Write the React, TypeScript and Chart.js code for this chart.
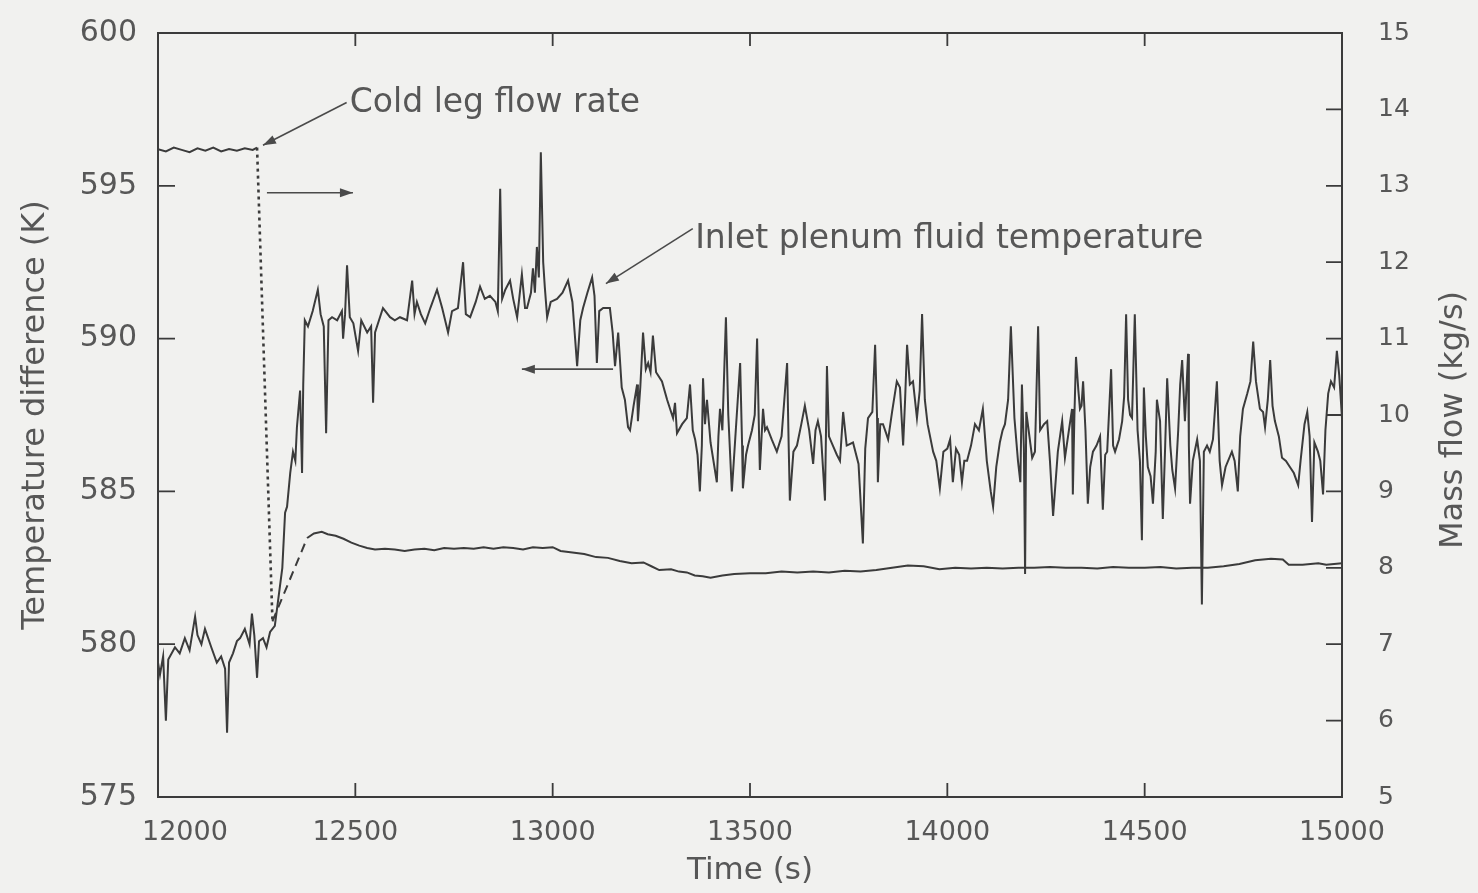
import { useEffect, useRef } from 'react';
import { Chart, registerables } from 'chart.js';

Chart.register(...registerables);

const INK = '#3b3b3b';
const TEXT = '#575757';
const PAPER = '#f1f1ef';
const FONT = '"DejaVu Sans", "Liberation Sans", sans-serif';

// Axis ticks
const timeTicks = [12000, 12500, 13000, 13500, 14000, 14500, 15000];
const timeTickLabels = ['12000', '12500', '13000', '13500', '14000', '14500', '15000'];
const tempTicks = [575, 580, 585, 590, 595, 600];
const flowTicks = [5, 6, 7, 8, 9, 10, 11, 12, 13, 14, 15];

// Inlet plenum fluid temperature (K), left axis
const tempTime = [
  12000, 12005, 12013, 12020, 12026, 12043, 12055, 12068, 12080, 12094,
  12100, 12110, 12119, 12135, 12149, 12160, 12170, 12175, 12180, 12190,
  12200, 12208, 12220, 12232, 12238, 12244, 12251, 12256, 12266, 12275,
  12284, 12296, 12305, 12315, 12322, 12327, 12335, 12342, 12348, 12352,
  12360, 12365, 12368, 12372, 12380, 12392, 12405, 12412, 12420, 12426,
  12432, 12441, 12454, 12466, 12469, 12474, 12479, 12486, 12495, 12507,
  12515, 12530, 12540, 12545, 12550, 12570, 12588, 12600, 12613, 12631,
  12644, 12650, 12656, 12666, 12677, 12690, 12707, 12720, 12735, 12745,
  12760, 12773, 12780, 12791, 12805, 12816, 12828, 12841, 12855, 12861,
  12867, 12872, 12880, 12892, 12900, 12910, 12916, 12922, 12930, 12935,
  12945, 12950, 12955, 12960, 12965, 12970, 12976, 12980, 12986, 12995,
  13011, 13025, 13039, 13050, 13062, 13070, 13077, 13088, 13100, 13106,
  13112, 13118, 13128, 13145, 13152, 13158, 13166, 13175, 13183, 13191,
  13196, 13205, 13214, 13216, 13222, 13229, 13236, 13242, 13248, 13254,
  13262, 13277, 13290, 13305, 13310, 13315, 13328, 13340, 13348, 13355,
  13361, 13367, 13373, 13378, 13381, 13386, 13391, 13400, 13416, 13420,
  13424, 13430, 13439, 13445, 13454, 13462, 13475, 13480, 13482, 13490,
  13495, 13505, 13512, 13518, 13522, 13525, 13533, 13538, 13543, 13555,
  13568, 13580, 13594, 13598, 13601, 13610, 13619, 13630, 13639, 13650,
  13660, 13666, 13672, 13680, 13690, 13695, 13700, 13710, 13720, 13728,
  13736, 13745, 13761, 13775, 13786, 13792, 13799, 13810, 13817, 13822,
  13824, 13830, 13837, 13845, 13850, 13860, 13872, 13880, 13888, 13893,
  13898, 13905, 13913, 13923, 13930, 13936, 13943, 13950, 13964, 13972,
  13981, 13990, 14000, 14007, 14014, 14022, 14030, 14037, 14043, 14050,
  14060, 14070, 14080, 14090, 14100, 14110, 14116, 14124, 14133, 14140,
  14146, 14154, 14161, 14170, 14179, 14185, 14189, 14194, 14197, 14200,
  14208, 14215, 14222, 14230, 14235, 14245, 14253, 14260, 14268, 14280,
  14291, 14298, 14308, 14316, 14318, 14322, 14326, 14332, 14336, 14340,
  14344, 14350, 14356, 14362, 14369, 14378, 14387, 14394, 14400, 14405,
  14415, 14420, 14425, 14435, 14443, 14448, 14453, 14458, 14463, 14468,
  14475, 14482, 14488, 14493, 14498, 14503, 14508, 14515, 14521, 14528,
  14531, 14539, 14546, 14552, 14557, 14565, 14570, 14577, 14585, 14590,
  14595, 14602, 14610, 14612, 14615, 14622, 14633, 14640, 14645, 14650,
  14658, 14665, 14673, 14683, 14690, 14696, 14705, 14721, 14728, 14736,
  14742, 14749, 14760, 14768, 14775, 14782, 14792, 14800, 14805, 14812,
  14818, 14824, 14830, 14840, 14848, 14858, 14868, 14878, 14889, 14895,
  14905, 14912, 14918, 14924, 14930, 14939, 14945, 14952, 14958, 14965,
  14972, 14980, 14987, 14993, 15000,
];
const tempValue = [
  579.4, 579.0, 579.6, 577.5, 579.5, 579.9, 579.7, 580.2, 579.8, 580.9,
  580.3, 580.0, 580.5, 579.9, 579.4, 579.6, 579.2, 577.1, 579.4, 579.7,
  580.1, 580.2, 580.5, 580.0, 581.0, 580.3, 578.9, 580.1, 580.2, 579.9,
  580.4, 580.6, 581.5, 582.5, 584.3, 584.5, 585.6, 586.3, 586.0, 587.1,
  588.3, 585.6, 588.5, 590.6, 590.4, 590.9, 591.6, 590.8, 590.4, 586.9,
  590.6, 590.7, 590.6, 590.9, 590.0, 590.8, 592.4, 590.7, 590.5, 589.6,
  590.6, 590.2, 590.4, 587.9, 590.2, 591.0, 590.7, 590.6, 590.7, 590.6,
  591.9, 590.8, 591.2, 590.8, 590.5, 591.0, 591.6, 591.0, 590.2, 590.9,
  591.0, 592.5, 590.8, 590.7, 591.2, 591.7, 591.3, 591.4, 591.2, 590.9,
  594.9, 591.3, 591.6, 591.9, 591.3, 590.7, 591.4, 592.1, 591.0, 591.0,
  591.5, 592.3, 591.5, 593.0, 592.0, 596.1, 592.5, 591.7, 590.7, 591.2,
  591.3, 591.5, 591.9, 591.2, 589.1, 590.6, 591.0, 591.5, 592.0, 591.4,
  589.2, 590.9, 591.0, 591.0, 590.2, 589.1, 590.2, 588.4, 588.0, 587.1,
  587.0, 587.8, 588.5, 587.3, 588.4, 590.2, 589.0, 589.2, 588.9, 590.1,
  588.9, 588.6, 588.0, 587.4, 587.9, 586.9, 587.2, 587.4, 588.5, 587.0,
  586.7, 586.2, 585.0, 586.5, 588.7, 587.2, 588.0, 586.6, 585.3, 586.8,
  587.7, 587.0, 590.7, 587.5, 585.0, 586.6, 589.2, 586.5, 585.1, 586.2,
  586.5, 587.0, 587.5, 590.0, 587.4, 585.7, 587.7, 587.0, 587.1, 586.7,
  586.3, 586.8, 589.2, 586.5, 584.7, 586.3, 586.5, 587.2, 587.8, 587.0,
  585.9, 587.0, 587.3, 586.8, 584.7, 589.1, 586.8, 586.5, 586.2, 586.0,
  587.6, 586.5, 586.6, 585.9, 583.3, 586.4, 587.4, 587.6, 589.8, 587.4,
  585.3, 587.2, 587.2, 586.9, 586.7, 587.6, 588.6, 588.4, 586.5, 588.0,
  589.8, 588.5, 588.6, 587.4, 588.3, 590.8, 588.0, 587.2, 586.3, 586.0,
  585.1, 586.3, 586.4, 586.7, 585.3, 586.4, 586.2, 585.3, 586.0, 586.0,
  586.5, 587.2, 587.0, 587.7, 586.0, 585.0, 584.5, 585.8, 586.6, 587.0,
  587.2, 588.0, 590.4, 587.4, 586.0, 585.3, 588.5, 586.4, 582.3, 587.6,
  586.8, 586.1, 586.3, 590.4, 587.0, 587.2, 587.3, 586.0, 584.2, 586.3,
  587.3, 586.1, 587.0, 587.7, 584.9, 587.5, 589.4, 588.3, 587.7, 587.8,
  588.6, 587.0, 584.6, 585.8, 586.3, 586.5, 586.8, 584.4, 586.2, 586.3,
  589.0, 586.5, 586.3, 586.7, 587.3, 588.1, 590.8, 588.0, 587.5, 587.4,
  590.8, 587.0, 586.0, 583.4, 588.4, 586.8, 585.8, 585.5, 584.6, 586.3,
  588.0, 587.3, 584.1, 586.5, 588.7, 586.5, 585.7, 585.1, 587.0, 588.5,
  589.3, 587.3, 589.5, 586.5, 584.6, 586.0, 586.7, 586.0, 581.3, 586.3,
  586.5, 586.3, 586.7, 588.6, 586.0, 585.2, 585.8, 586.3, 586.0, 585.0,
  586.8, 587.7, 588.2, 588.6, 589.9, 588.6, 587.7, 587.6, 587.1, 588.0,
  589.3, 587.8, 587.3, 586.8, 586.1, 586.0, 585.8, 585.6, 585.2, 586.0,
  587.2, 587.6, 586.8, 584.0, 586.6, 586.3, 586.0, 584.9, 587.0, 588.2,
  588.6, 588.4, 589.6, 588.8, 587.4,
];

// Cold leg mass flow rate (kg/s), right axis
const flowTime = [
  12000, 12020, 12040, 12060, 12080, 12100, 12120, 12140, 12160, 12180,
  12200, 12220, 12240, 12251, 12290, 12378, 12395, 12415, 12430, 12450,
  12470, 12490, 12510, 12530, 12550, 12575, 12600, 12625, 12650, 12675,
  12700, 12725, 12750, 12775, 12800, 12825, 12850, 12875, 12900, 12925,
  12950, 12975, 13000, 13020, 13050, 13080, 13110, 13140, 13170, 13200,
  13230, 13250, 13270, 13300, 13320, 13340, 13360, 13380, 13400, 13430,
  13460, 13500, 13540, 13580, 13620, 13660, 13700, 13740, 13780, 13820,
  13860, 13900, 13940, 13980, 14020, 14060, 14100, 14140, 14180, 14220,
  14260, 14300, 14340, 14380, 14420, 14460, 14500, 14540, 14580, 14620,
  14660, 14700, 14740, 14780, 14820, 14850, 14865, 14900, 14940, 14960,
  15000,
];
const flowValue = [
  13.48, 13.45, 13.50, 13.47, 13.44, 13.49, 13.46, 13.50, 13.45, 13.48,
  13.46, 13.49, 13.47, 13.50, 7.30, 8.39, 8.45, 8.47, 8.44, 8.42,
  8.38, 8.33, 8.29, 8.26, 8.24, 8.25, 8.24, 8.22, 8.24, 8.25,
  8.23, 8.26, 8.25, 8.26, 8.25, 8.27, 8.25, 8.27, 8.26, 8.24,
  8.27, 8.26, 8.27, 8.22, 8.20, 8.18, 8.14, 8.13, 8.09, 8.06,
  8.07, 8.02, 7.97, 7.98, 7.95, 7.94, 7.90, 7.89, 7.87, 7.90,
  7.92, 7.93, 7.93, 7.95, 7.94, 7.95, 7.94, 7.96, 7.95, 7.97,
  8.00, 8.03, 8.02, 7.98, 8.00, 7.99, 8.00, 7.99, 8.00, 8.00,
  8.01, 8.00, 8.00, 7.99, 8.01, 8.00, 8.00, 8.01, 7.99, 8.00,
  8.00, 8.02, 8.05, 8.10, 8.12, 8.11, 8.04, 8.04, 8.06, 8.04,
  8.06,
];

// Flow transient: dotted drop, then dashed recovery
const flowDropStart = 12251;
const flowDropEnd = 12290;
const flowRecoveryEnd = 12378;

const coldLegText = 'Cold leg flow rate';
const inletText = 'Inlet plenum fluid temperature';

function drawArrowHead(ctx: CanvasRenderingContext2D, fx: number, fy: number, tx: number, ty: number) {
  const ang = Math.atan2(ty - fy, tx - fx);
  const len = 13;
  const half = 4.5;
  ctx.beginPath();
  ctx.moveTo(tx, ty);
  ctx.lineTo(tx - len * Math.cos(ang) + half * Math.sin(ang), ty - len * Math.sin(ang) - half * Math.cos(ang));
  ctx.lineTo(tx - len * Math.cos(ang) - half * Math.sin(ang), ty - len * Math.sin(ang) + half * Math.cos(ang));
  ctx.closePath();
  ctx.fill();
}

function drawArrow(ctx: CanvasRenderingContext2D, fx: number, fy: number, tx: number, ty: number) {
  ctx.beginPath();
  ctx.moveTo(fx, fy);
  ctx.lineTo(tx, ty);
  ctx.stroke();
  drawArrowHead(ctx, fx, fy, tx, ty);
}

const framePlugin = {
  id: 'frameAndNotes',
  afterDatasetsDraw(chart: any) {
    const { ctx, chartArea: a, scales } = chart;
    const sx = scales.x;
    const sy = scales.y;
    const sy1 = scales.y1;
    ctx.save();

    // plot frame
    ctx.strokeStyle = INK;
    ctx.lineWidth = 2;
    ctx.strokeRect(a.left, a.top, a.right - a.left, a.bottom - a.top);

    // inward tick marks
    ctx.lineWidth = 1.8;
    ctx.beginPath();
    timeTicks.slice(1, -1).forEach((t) => {
      const px = sx.getPixelForValue(t);
      ctx.moveTo(px, a.bottom);
      ctx.lineTo(px, a.bottom - 14);
      ctx.moveTo(px, a.top);
      ctx.lineTo(px, a.top + 13);
    });
    tempTicks.slice(1, -1).forEach((v) => {
      const py = sy.getPixelForValue(v);
      ctx.moveTo(a.left, py);
      ctx.lineTo(a.left + 17, py);
    });
    flowTicks.slice(1, -1).forEach((v) => {
      const py = sy1.getPixelForValue(v);
      ctx.moveTo(a.right, py);
      ctx.lineTo(a.right - 16, py);
    });
    ctx.stroke();

    // first time label sits just inside the frame corner
    ctx.fillStyle = TEXT;
    ctx.font = `27px ${FONT}`;
    ctx.textAlign = 'left';
    ctx.textBaseline = 'middle';
    ctx.fillText(timeTickLabels[0], sx.getPixelForValue(timeTicks[0]) - 16, a.bottom + 36);

    // annotations
    ctx.strokeStyle = '#4a4a4a';
    ctx.lineWidth = 1.6;
    ctx.font = `33px ${FONT}`;
    ctx.fillText(coldLegText, sx.getPixelForValue(12486), sy1.getPixelForValue(14.08));
    ctx.fillText(inletText, sx.getPixelForValue(13361), sy.getPixelForValue(593.25));

    ctx.fillStyle = '#4a4a4a';
    // leader to the cold leg flow line
    drawArrow(ctx, sx.getPixelForValue(12478), sy1.getPixelForValue(14.09), sx.getPixelForValue(12266), sy1.getPixelForValue(13.53));
    // leader to the inlet plenum temperature
    drawArrow(ctx, sx.getPixelForValue(13355), sy.getPixelForValue(593.6), sx.getPixelForValue(13135), sy.getPixelForValue(591.8));
    // flow reads on the right axis
    drawArrow(ctx, sx.getPixelForValue(12276), sy1.getPixelForValue(12.91), sx.getPixelForValue(12494), sy1.getPixelForValue(12.91));
    // temperature reads on the left axis
    drawArrow(ctx, sx.getPixelForValue(13153), sy.getPixelForValue(589.0), sx.getPixelForValue(12922), sy.getPixelForValue(589.0));

    // right axis title, reading bottom to top
    ctx.fillStyle = TEXT;
    ctx.font = `32px ${FONT}`;
    ctx.textAlign = 'center';
    ctx.translate(a.right + 112, (a.top + a.bottom) / 2 + 5);
    ctx.rotate(-Math.PI / 2);
    ctx.fillText('Mass flow (kg/s)', 0, 0);
    ctx.restore();
  },
};

// keep the plot area fixed: no extra room for the end labels
function noEndPadding(s: any) {
  s.paddingTop = 0;
  s.paddingBottom = 0;
  s.paddingLeft = 0;
  s.paddingRight = 0;
}

export default function App() {
  const canvasRef = useRef<HTMLCanvasElement | null>(null);

  useEffect(() => {
    document.body.style.margin = '0';
    document.body.style.background = PAPER;
    const canvas = canvasRef.current;
    if (!canvas) return;

    const tempData = tempTime.map((t, i) => ({ x: t, y: tempValue[i] }));
    const flowData = flowTime.map((t, i) => ({ x: t, y: flowValue[i] }));

    const chart = new Chart(canvas, {
      type: 'line',
      data: {
        datasets: [
          {
            label: 'Inlet plenum fluid temperature',
            data: tempData,
            yAxisID: 'y',
            borderColor: INK,
            borderWidth: 2,
            pointRadius: 0,
            tension: 0,
            fill: false,
          },
          {
            label: 'Cold leg flow rate',
            data: flowData,
            yAxisID: 'y1',
            borderColor: INK,
            borderWidth: 2,
            pointRadius: 0,
            tension: 0,
            fill: false,
            segment: {
              borderDash: (c: any) => {
                const x0 = c.p0.parsed.x;
                if (x0 >= flowDropStart && x0 < flowDropEnd) return [3, 4];
                if (x0 >= flowDropEnd && x0 < flowRecoveryEnd) return [9, 6];
                return undefined;
              },
              borderWidth: (c: any) => {
                const x0 = c.p0.parsed.x;
                return x0 >= flowDropStart && x0 < flowDropEnd ? 2.6 : undefined;
              },
            },
          },
        ],
      },
      options: {
        responsive: false,
        animation: false,
        events: [],
        layout: { padding: { top: 33, left: 0, right: 0, bottom: 0 } },
        plugins: {
          legend: { display: false },
          tooltip: { enabled: false },
        },
        scales: {
          x: {
            type: 'linear',
            min: 12000,
            max: 15000,
            grid: { display: false, drawTicks: false },
            border: { display: false },
            ticks: {
              stepSize: 500,
              autoSkip: false,
              maxRotation: 0,
              padding: 20,
              color: TEXT,
              font: { family: FONT, size: 27 },
              callback: (v: any) => {
                const i = timeTicks.indexOf(Number(v));
                return i > 0 ? timeTickLabels[i] : '';
              },
            },
            title: {
              display: true,
              text: 'Time (s)',
              color: TEXT,
              font: { family: FONT, size: 31 },
              padding: { top: 0, bottom: 3 },
            },
            afterFit: (s: any) => {
              s.height = 96;
              noEndPadding(s);
            },
          },
          y: {
            type: 'linear',
            position: 'left',
            min: 575,
            max: 600,
            grid: { display: false, drawTicks: false },
            border: { display: false },
            ticks: {
              stepSize: 5,
              padding: 21,
              color: TEXT,
              font: { family: FONT, size: 30 },
              callback: (v: any) => String(v),
            },
            title: {
              display: true,
              text: 'Temperature difference (K)',
              color: TEXT,
              font: { family: FONT, size: 32 },
              padding: { top: 16, bottom: 0 },
            },
            afterFit: (s: any) => {
              s.width = 158;
              noEndPadding(s);
            },
          },
          y1: {
            type: 'linear',
            position: 'right',
            min: 5,
            max: 15,
            grid: { display: false, drawTicks: false, drawOnChartArea: false },
            border: { display: false },
            ticks: {
              stepSize: 1,
              padding: 36,
              color: TEXT,
              font: { family: FONT, size: 25 },
              callback: (v: any) => String(v),
            },
            afterFit: (s: any) => {
              s.width = 136;
              noEndPadding(s);
            },
          },
        },
      },
      plugins: [framePlugin],
    });

    return () => chart.destroy();
  }, []);

  return (
    <div style={{ position: 'absolute', left: 0, top: 0, width: 1478, height: 893, background: PAPER }}>
      <canvas ref={canvasRef} width={1478} height={893} />
    </div>
  );
}
